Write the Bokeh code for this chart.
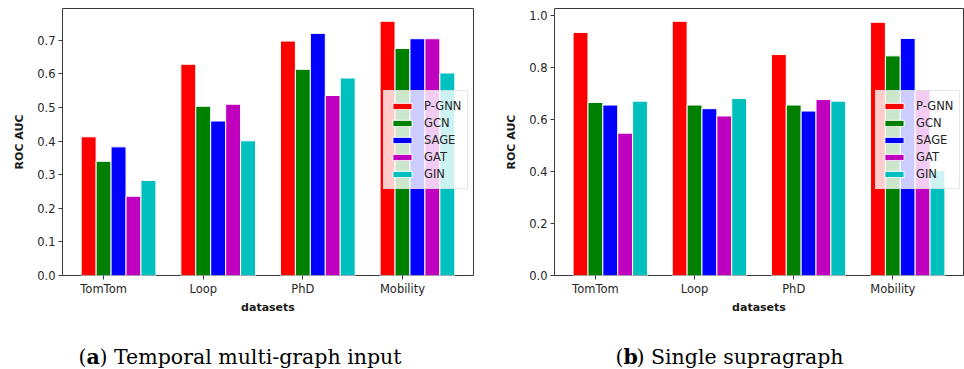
from bokeh.plotting import figure
from bokeh.layouts import row, column
from bokeh.models import FixedTicker, Legend, LegendItem, Range1d
from bokeh.core.properties import value
from bokeh.embed import file_html
from bokeh.resources import INLINE

datasets = ["TomTom", "Loop", "PhD", "Mobility"]
models = ["P-GNN", "GCN", "SAGE", "GAT", "GIN"]
colors = ["#ff0000", "#008000", "#0000ff", "#bf00bf", "#00bfbf"]

# (a) Temporal multi-graph input
temporal = {
    "P-GNN": [0.413, 0.629, 0.698, 0.757],
    "GCN":   [0.340, 0.504, 0.614, 0.676],
    "SAGE":  [0.383, 0.460, 0.721, 0.705],
    "GAT":   [0.236, 0.510, 0.536, 0.705],
    "GIN":   [0.283, 0.401, 0.588, 0.603],
}
# (b) Single supragraph
supra = {
    "P-GNN": [0.934, 0.977, 0.849, 0.973],
    "GCN":   [0.665, 0.655, 0.655, 0.844],
    "SAGE":  [0.655, 0.641, 0.632, 0.911],
    "GAT":   [0.547, 0.613, 0.676, 0.713],
    "GIN":   [0.670, 0.680, 0.670, 0.404],
}
yticks_a = [0.0, 0.1, 0.2, 0.3, 0.4, 0.5, 0.6, 0.7]
yticks_b = [0.0, 0.2, 0.4, 0.6, 0.8, 1.0]
caption_a = ("a", ") Temporal multi-graph input")
caption_b = ("b", ") Single supragraph")

BW = 0.15
FONT = "DejaVu Sans"
TXT = "#262626"
TOP_H = 318


def make(data, yticks, ymax, left, right, width):
    p = figure(width=width, height=TOP_H, output_backend="svg", toolbar_location=None,
               x_range=Range1d(-0.2625, 3.8625), y_range=Range1d(0, ymax),
               min_border_left=left, min_border_right=right, min_border_top=8,
               min_border_bottom=TOP_H - 275)
    p.grid.visible = False
    p.outline_line_color = "#3a3a3a"
    p.outline_line_width = 1
    p.background_fill_color = "white"
    p.border_fill_color = "white"
    items = []
    for j, m in enumerate(models):
        xs = [i + j * BW for i in range(len(datasets))]
        r = p.vbar(x=xs, top=data[m], width=BW, bottom=0, fill_color=colors[j],
                   line_color="white", line_width=1)
        items.append(LegendItem(label=m, renderers=[r]))
    leg = Legend(items=items, location=(321, 86), background_fill_alpha=0.8,
                 border_line_color="#d0d0d0", border_line_width=1,
                 label_text_font=FONT, label_text_font_size="11.5px",
                 label_text_color=TXT, glyph_width=24, glyph_height=8,
                 label_standoff=10, spacing=0, padding=6, margin=0,
                 label_height=17)
    p.add_layout(leg)
    p.xaxis.ticker = FixedTicker(ticks=[i + BW for i in range(len(datasets))])
    p.xaxis.major_label_overrides = {i + BW: d for i, d in enumerate(datasets)}
    p.yaxis.ticker = FixedTicker(ticks=yticks)
    p.yaxis.major_label_overrides = {t: f"{t:.1f}" for t in yticks}
    for ax in (p.xaxis, p.yaxis):
        ax.axis_line_color = None
        ax.major_tick_line_color = "#3a3a3a"
        ax.major_tick_in = 0
        ax.major_tick_out = 4
        ax.minor_tick_line_color = None
        ax.major_label_text_font = FONT
        ax.major_label_text_font_size = "11.5px"
        ax.major_label_text_color = TXT
        ax.axis_label_text_font = FONT
        ax.axis_label_text_font_size = "11px"
        ax.axis_label_text_font_style = "bold"
        ax.axis_label_text_color = "#1a1a1a"
    p.xaxis.axis_label = "datasets"
    p.yaxis.axis_label = "ROC AUC"
    p.xaxis.major_label_standoff = 2
    p.xaxis.axis_label_standoff = 2
    p.yaxis.major_label_standoff = 3
    p.yaxis.axis_label_standoff = 8
    return p


p1 = make(temporal, yticks_a, 0.795, 62, 7, 480)
p2 = make(supra, yticks_b, 1.026, 74, 1, 484)

# caption strip (pixel coordinates)
CAP_H = 369 - TOP_H
pc = figure(width=964, height=CAP_H, output_backend="svg", toolbar_location=None,
            x_range=Range1d(0, 964), y_range=Range1d(0, CAP_H),
            x_axis_type=None, y_axis_type=None, min_border=0)
pc.grid.visible = False
pc.outline_line_color = None
cf = value("DejaVu Serif")
cs = value("20.5px")
yb = 13
for cap, x0 in ((caption_a, 78), (caption_b, 615)):
    pc.text(x=[x0], y=[yb], text=["("], text_font=cf, text_font_size=cs,
            text_color="black", text_baseline="alphabetic")
    pc.text(x=[x0 + 8], y=[yb], text=[cap[0]], text_font=cf, text_font_size=cs,
            text_font_style="bold", text_color="black", text_baseline="alphabetic")
    pc.text(x=[x0 + 21], y=[yb], text=[cap[1]], text_font=cf, text_font_size=cs,
            text_color="black", text_baseline="alphabetic")

layout = column(row(p1, p2, spacing=0), pc, spacing=0)
open("out.html", "w").write(file_html(layout, INLINE))
